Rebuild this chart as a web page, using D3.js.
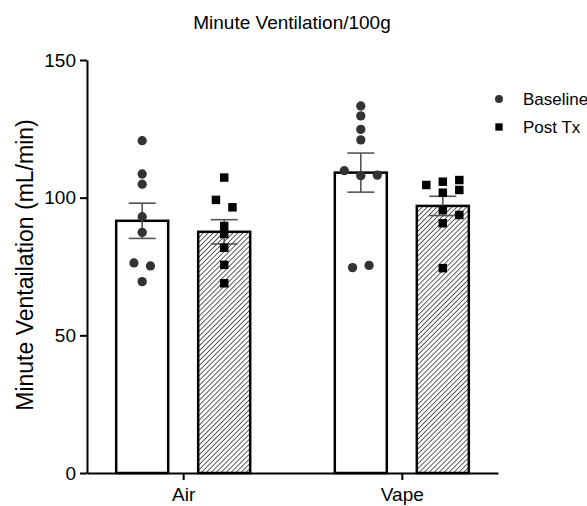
<!DOCTYPE html>
<meta charset="utf-8">
<script src="https://d3js.org/d3.v7.min.js"></script>
<style>
  body { margin: 0; background: #fff; }
  text { font-family: "Liberation Sans", Arial, sans-serif; fill: #000; }
</style>
<div id="my_dataviz"></div>
<script>

// categories and series
var groups = ["Air", "Vape"];
var series = ["Baseline", "Post Tx"];
var yTicks = [0, 50, 100, 150];

// bar heights (mean) and SEM
var baselineMean = [91.6, 109.1];
var postMean = [87.6, 97.0];
var baselineSem = [6.4, 7.1];
var postSem = [4.4, 3.5];

// individual animals
var airBaseline = [120.7, 108.6, 104.9, 93.1, 87.4, 76.3, 75.2, 69.5];
var airBaselineLane = [0, 0, 0, 0, 0, -0.5, 0.5, 0];
var airPost = [107.3, 99.2, 96.5, 89.7, 86.8, 81.8, 75.6, 68.9];
var airPostLane = [0, -0.5, 0.5, 0, 0, 0, 0, 0];
var vapeBaseline = [133.3, 129.7, 124.8, 121.0, 109.8, 108.0, 108.2, 75.4, 74.6];
var vapeBaselineLane = [0, 0, 0, 0, -1, 0, 1, 0.5, -0.5];
var vapePost = [104.6, 105.8, 106.4, 101.8, 102.8, 95.5, 93.7, 90.7, 74.4];
var vapePostLane = [-1, 0, 1, 0, 1, 0, 1, 0, 0];

var width = 587, height = 506;

var svg = d3.select("#my_dataviz")
  .append("svg")
    .attr("width", width)
    .attr("height", height);

// hatch pattern for Post Tx bars
var defs = svg.append("defs");
defs.append("pattern")
    .attr("id", "hatch")
    .attr("patternUnits", "userSpaceOnUse")
    .attr("width", 3.5)
    .attr("height", 3.5)
    .attr("patternTransform", "rotate(45)")
  .append("line")
    .attr("x1", 0).attr("y1", 0)
    .attr("x2", 0).attr("y2", 3.5)
    .attr("stroke", "#1a1a1a")
    .attr("stroke-width", 1.4);

// scales
var y = d3.scaleLinear().domain([0, 150]).range([473, 60]);
var x = d3.scalePoint().domain(groups).range([87, 498]).padding(0.44);
var xs = d3.scaleBand().domain(series).range([-67, 67]).paddingInner(0.366);
var lane = d3.scaleLinear().domain([-1, 1]).range([-16.5, 16.5]);

// table built from the arrays
var bars = [];
groups.forEach(function(g, i) {
  bars.push({group: g, series: "Baseline", mean: baselineMean[i], sem: baselineSem[i]});
  bars.push({group: g, series: "Post Tx", mean: postMean[i], sem: postSem[i]});
});
var pointSets = [
  {group: "Air", series: "Baseline", values: airBaseline, lanes: airBaselineLane},
  {group: "Air", series: "Post Tx", values: airPost, lanes: airPostLane},
  {group: "Vape", series: "Baseline", values: vapeBaseline, lanes: vapeBaselineLane},
  {group: "Vape", series: "Post Tx", values: vapePost, lanes: vapePostLane}
];
var points = [];
pointSets.forEach(function(s) {
  s.values.forEach(function(v, k) {
    points.push({group: s.group, series: s.series, value: v, lane: s.lanes[k]});
  });
});

function barLeft(d) { return x(d.group) + xs(d.series); }
function barCenter(d) { return x(d.group) + xs(d.series) + xs.bandwidth() / 2; }

// bars
svg.selectAll(".bar")
  .data(bars)
  .enter()
  .append("rect")
    .attr("class", "bar")
    .attr("x", barLeft)
    .attr("y", function(d) { return y(d.mean); })
    .attr("width", xs.bandwidth())
    .attr("height", function(d) { return y(0) - y(d.mean); })
    .attr("fill", function(d) { return d.series == "Baseline" ? "#fff" : "url(#hatch)"; })
    .attr("stroke", "#000")
    .attr("stroke-width", 2.5);

// error bars
var err = svg.selectAll(".err")
  .data(bars)
  .enter()
  .append("g")
    .attr("class", "err")
    .attr("stroke", "#555")
    .attr("stroke-width", 1.6);
err.append("line")
    .attr("x1", barCenter).attr("x2", barCenter)
    .attr("y1", function(d) { return y(d.mean + d.sem); })
    .attr("y2", function(d) { return y(d.mean - d.sem); });
err.append("line")
    .attr("x1", function(d) { return barCenter(d) - 13.5; })
    .attr("x2", function(d) { return barCenter(d) + 13.5; })
    .attr("y1", function(d) { return y(d.mean + d.sem); })
    .attr("y2", function(d) { return y(d.mean + d.sem); });
err.append("line")
    .attr("x1", function(d) { return barCenter(d) - 13.5; })
    .attr("x2", function(d) { return barCenter(d) + 13.5; })
    .attr("y1", function(d) { return y(d.mean - d.sem); })
    .attr("y2", function(d) { return y(d.mean - d.sem); });

// points
var sym = d3.scaleOrdinal().domain(series).range([d3.symbolCircle, d3.symbolSquare]);
var symSize = d3.scaleOrdinal().domain(series).range([68, 72]);
var symColor = d3.scaleOrdinal().domain(series).range(["#333", "#000"]);
svg.selectAll(".pt")
  .data(points)
  .enter()
  .append("path")
    .attr("class", "pt")
    .attr("d", function(d) { return d3.symbol().type(sym(d.series)).size(symSize(d.series))(); })
    .attr("transform", function(d) {
      return "translate(" + (barCenter(d) + lane(d.lane)) + "," + y(d.value) + ")";
    })
    .attr("fill", function(d) { return symColor(d.series); });

// axes
var yAxis = svg.append("g")
  .attr("transform", "translate(87,0)")
  .call(d3.axisLeft(y).tickValues(yTicks).tickSize(7).tickPadding(4).tickSizeOuter(0));
yAxis.selectAll("text").style("font-size", "19px").attr("font-family", null);
yAxis.selectAll("path, line").attr("stroke-width", 2);

var xAxis = svg.append("g")
  .attr("transform", "translate(0,473)")
  .call(d3.axisBottom(x).tickSize(7).tickPadding(8).tickSizeOuter(0));
xAxis.selectAll("text").style("font-size", "19px").attr("font-family", null);
xAxis.selectAll("path, line").attr("stroke-width", 2);

// titles
svg.append("text")
    .attr("x", 292)
    .attr("y", 29)
    .attr("text-anchor", "middle")
    .style("font-size", "19px")
    .text("Minute Ventilation/100g");

svg.append("text")
    .attr("transform", "translate(33,265) rotate(-90)")
    .attr("text-anchor", "middle")
    .style("font-size", "23px")
    .text("Minute Ventailation (mL/min)");

// legend
var legend = svg.selectAll(".legend")
  .data(series)
  .enter()
  .append("g")
    .attr("class", "legend")
    .attr("transform", function(d, i) { return "translate(499," + (99 + i * 28) + ")"; });
legend.append("path")
    .attr("d", function(d) { return d3.symbol().type(sym(d)).size(symSize(d) * 0.75)(); })
    .attr("fill", function(d) { return symColor(d); });
legend.append("text")
    .attr("x", 24)
    .attr("y", 6)
    .style("font-size", "17px")
    .text(function(d) { return d; });

</script>
